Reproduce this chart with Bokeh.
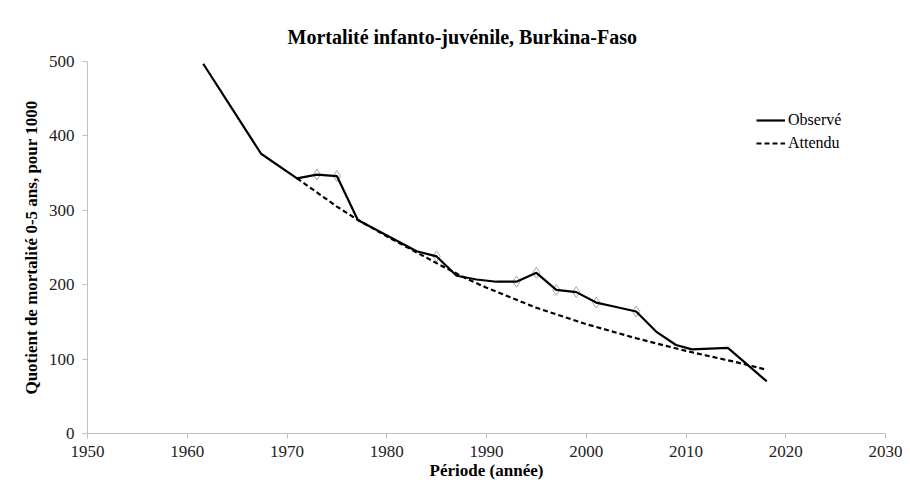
from bokeh.plotting import figure
from bokeh.models import Range1d, Legend, LegendItem, FixedTicker
from bokeh.embed import file_html
from bokeh.resources import INLINE

# Data
obs_years = [1961.6, 1967.4, 1971.0, 1973.0, 1975.0, 1977.1, 1983.0, 1985.0, 1987.0,
             1989.0, 1991.0, 1993.0, 1995.0, 1997.0, 1999.0, 2001.0, 2003.0, 2005.0,
             2007.0, 2009.0, 2010.6, 2014.2, 2018.1]
obs_values = [497, 376, 343, 348, 346, 287, 245, 238, 212,
              207, 204, 204, 216, 193, 190, 176, 170, 164,
              137, 119, 113, 115, 70]
marker_years = [1973.0, 1975.0, 1985.0, 1993.0, 1995.0, 1997.0, 1999.0, 2001.0, 2005.0]
marker_values = [348, 346, 238, 204, 216, 193, 190, 176, 164]
exp_years = [1971, 1975, 1977, 1980, 1985, 1988, 1990, 1995, 2000, 2005, 2010, 2015, 2018]
exp_values = [343, 305, 288, 265, 229, 208, 196, 169, 147, 128, 111, 96, 86]
x_ticks = [1950, 1960, 1970, 1980, 1990, 2000, 2010, 2020, 2030]
y_ticks = [0, 100, 200, 300, 400, 500]

FONT = "Liberation Serif"

p = figure(width=902, height=483, output_backend="svg", toolbar_location=None,
           x_range=Range1d(1950, 2030), y_range=Range1d(0, 500),
           min_border_left=87, min_border_right=17, min_border_top=61, min_border_bottom=50)

p.title.text = "Mortalité infanto-juvénile, Burkina-Faso"
p.title.align = "left"
p.title.offset = 200
p.title.text_font = FONT
p.title.text_font_size = "20px"
p.title.text_font_style = "bold"
p.title.text_color = "#000000"
p.title.standoff = 27

p.xgrid.visible = False
p.ygrid.visible = False
p.outline_line_color = None
p.background_fill_color = "white"
p.border_fill_color = "white"

for ax in (p.xaxis[0], p.yaxis[0]):
    ax.axis_line_color = "#bfbfbf"
    ax.axis_line_width = 1
    ax.major_tick_line_color = "#bfbfbf"
    ax.major_tick_out = 5
    ax.major_tick_in = 0
    ax.minor_tick_line_color = None
    ax.major_label_text_font = FONT
    ax.major_label_text_font_size = "17px"
    ax.major_label_text_color = "#222222"
    ax.axis_label_text_font = FONT
    ax.axis_label_text_font_size = "17px"
    ax.axis_label_text_font_style = "bold"
    ax.axis_label_text_color = "#000000"

p.xaxis.ticker = FixedTicker(ticks=x_ticks)
p.yaxis.ticker = FixedTicker(ticks=y_ticks)
p.xaxis.axis_label = "Période (année)"
p.yaxis.axis_label = "Quotient de mortalité 0-5 ans, pour 1000"
p.xaxis.major_label_standoff = 7
p.yaxis.major_label_standoff = 8
p.xaxis.axis_label_standoff = 1
p.yaxis.axis_label_standoff = 5

p.scatter(marker_years, marker_values, marker="diamond", size=11,
          fill_color="white", line_color="#a6a6a6", line_width=1)
r_obs = p.line(obs_years, obs_values, line_color="#000000", line_width=2.2)
r_exp = p.line(exp_years, exp_values, line_color="#000000", line_width=2.2, line_dash="5 3")

legend = Legend(items=[LegendItem(label="Observé", renderers=[r_obs]),
                       LegendItem(label="Attendu", renderers=[r_exp])],
                location=(669, 280))
legend.border_line_color = None
legend.background_fill_alpha = 0
legend.padding = 0
legend.margin = 0
legend.spacing = 3
legend.glyph_width = 29
legend.glyph_height = 20
legend.label_height = 20
legend.label_standoff = 3
legend.label_text_font = FONT
legend.label_text_font_size = "16px"
legend.label_text_color = "#000000"
p.add_layout(legend, "center")

open("out.html", "w").write(file_html(p, INLINE))
